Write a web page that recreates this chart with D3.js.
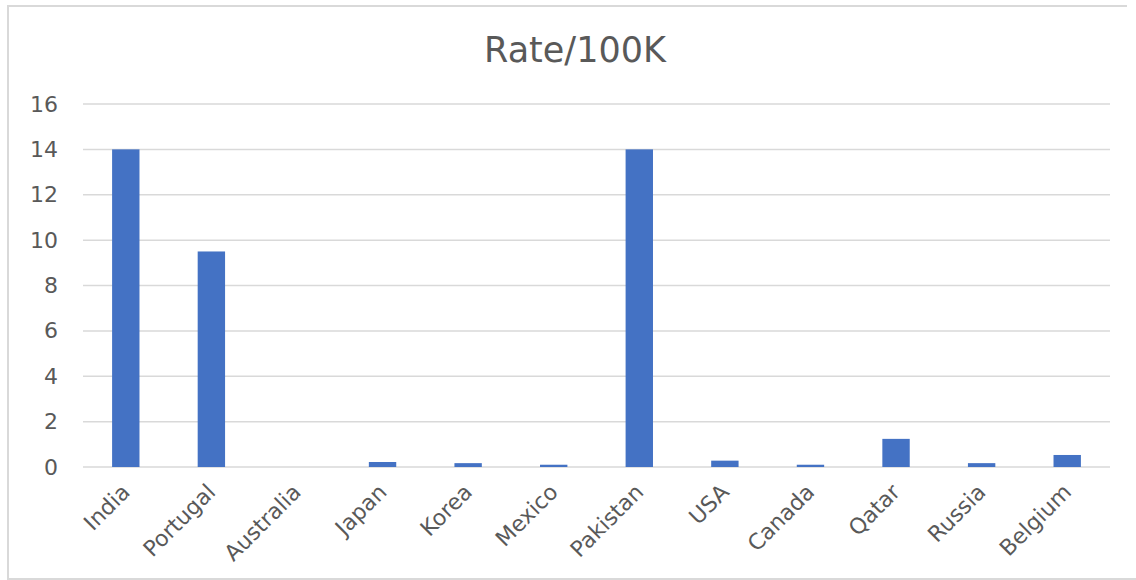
<!DOCTYPE html>
<html>
<head>
<meta charset="utf-8">
<script src="https://cdn.jsdelivr.net/npm/d3@7"></script>
<style>
  body { margin: 0; background: #fff; }
  svg { display: block; font-family: "DejaVu Sans", sans-serif; }
</style>
</head>
<body>
<svg id="chart"></svg>
<script>
const countries = ["India", "Portugal", "Australia", "Japan", "Korea", "Mexico",
  "Pakistan", "USA", "Canada", "Qatar", "Russia", "Belgium"];
const rates = [14, 9.5, 0, 0.22, 0.17, 0.1, 14, 0.28, 0.1, 1.24, 0.17, 0.53];
const yTicks = [0, 2, 4, 6, 8, 10, 12, 14, 16];
const title = "Rate/100K";

const width = 1136, height = 580;
const margin = { left: 83, right: 26, top: 104, bottom: 113 };

const svg = d3.select("#chart")
  .attr("width", width)
  .attr("height", height);

// chart frame (right edge is cut off in the original)
svg.append("path")
  .attr("d", "M1127,6 H8 V579 H1136")
  .attr("fill", "none")
  .attr("stroke", "#d9d9d9")
  .attr("stroke-width", 2);

const x = d3.scaleBand()
  .domain(countries)
  .range([margin.left, width - margin.right])
  .paddingInner(0.68)
  .paddingOuter(0.34);

const y = d3.scaleLinear()
  .domain([0, 16])
  .range([height - margin.bottom, margin.top]);

// gridlines
svg.append("g")
  .selectAll("line")
  .data(yTicks)
  .join("line")
  .attr("x1", margin.left)
  .attr("x2", width - margin.right)
  .attr("y1", d => y(d))
  .attr("y2", d => y(d))
  .attr("stroke", "#d9d9d9")
  .attr("stroke-width", 1.5);

// y axis labels
const yAxis = d3.axisLeft(y).tickValues(yTicks).tickSize(0).tickPadding(25);
svg.append("g")
  .attr("transform", `translate(${margin.left},0)`)
  .call(yAxis)
  .call(g => g.select(".domain").remove())
  .selectAll("text")
  .attr("font-family", "DejaVu Sans, sans-serif")
  .style("font-size", "22px")
  .attr("fill", "#595959")
  .attr("text-anchor", "end");

// bars
svg.append("g")
  .selectAll("rect")
  .data(rates)
  .join("rect")
  .attr("x", (d, i) => x(countries[i]))
  .attr("y", d => y(d))
  .attr("width", x.bandwidth())
  .attr("height", d => y(0) - y(d))
  .attr("fill", "#4472c4");

// x axis labels
const xAxis = d3.axisBottom(x).tickSize(0).tickPadding(0);
svg.append("g")
  .attr("transform", `translate(0,${y(0)})`)
  .call(xAxis)
  .call(g => g.select(".domain").remove())
  .selectAll("text")
  .attr("font-family", "DejaVu Sans, sans-serif")
  .style("font-size", "22px")
  .attr("fill", "#595959")
  .attr("text-anchor", "end")
  .attr("dy", "0.35em")
  .attr("transform", "translate(0,21) rotate(-45)");

// title
svg.append("text")
  .attr("x", 575)
  .attr("y", 62)
  .attr("text-anchor", "middle")
  .attr("fill", "#595959")
  .style("font-size", "35px")
  .text(title);
</script>
</body>
</html>
